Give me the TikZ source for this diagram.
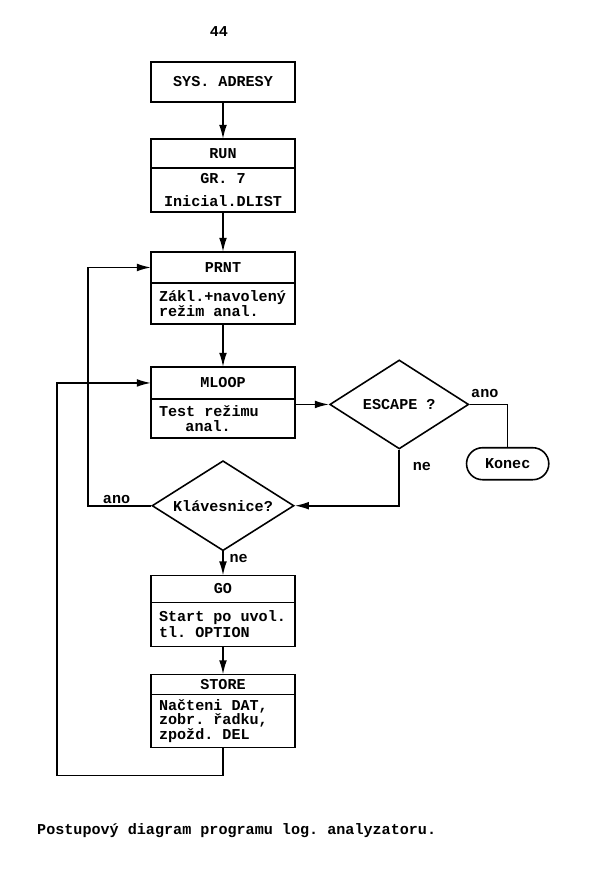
\documentclass[tikz,border=0pt]{standalone}
\usepackage{fontspec}
\setmainfont{Liberation Mono}[UprightFont={* Bold}]
\usetikzlibrary{shapes.geometric, shapes.misc, arrows.meta, positioning}

\begin{document}
\begin{tikzpicture}[
        x=0.02cm, y=-0.02cm,
        font=\fontsize{8.6}{9}\selectfont,
        every node/.style={execute at begin node={\frenchspacing\spaceskip=0.6em\relax}},
        head/.style={rectangle, draw=black, line width=0.9pt, minimum width=2.88cm, inner sep=0pt, outer sep=0pt, align=center},
        body/.style={rectangle, draw=black, line width=0.9pt, text width=2.56cm, inner xsep=0.16cm, inner ysep=0pt, outer sep=0pt, align=left, execute at begin node=\setlength{\lineskiplimit}{-6pt}},
        decision/.style={diamond, aspect=1.6, draw=black, line width=0.9pt, inner sep=0pt, align=center},
        term/.style={rounded rectangle, draw=black, line width=0.9pt, minimum width=1.88cm, minimum height=0.64cm},
        arrow/.style={line width=0.9pt, -{Latex[length=8pt,width=4.4pt]}},
        conn/.style={line width=0.9pt}
    ]
    \useasboundingbox (0,0) rectangle (600,870);

    % Nodes
    \node (pageno) at (219,32) {44};
    \node (sys) [head, minimum height=0.8cm] at (223,82) {SYS. ADRESY};
    \node (run) [head, minimum height=0.58cm, below=0.74cm of sys] {RUN};
    \node (runb) [body, align=center, minimum height=0.88cm, font=\fontsize{8.6}{13}\selectfont, below=0pt of run] {GR. 7\\Inicial.DLIST};
    \node (prnt) [head, minimum height=0.62cm, below=0.8cm of runb] {PRNT};
    \node (prntb) [body, minimum height=0.82cm, font=\fontsize{8.6}{8.8}\selectfont, below=0pt of prnt] {Zákl.+navolený\\režim anal.};
    \node (mloop) [head, minimum height=0.64cm, below=0.86cm of prntb] {MLOOP};
    \node (mloopb) [body, minimum height=0.78cm, font=\fontsize{8.6}{8.8}\selectfont, below=0pt of mloop] {Test režimu\\\hspace*{1.75em}anal.};
    \node (esc) [decision, minimum width=2.78cm, minimum height=1.78cm, right=0.68cm of mloopb, yshift=0.28cm] {ESCAPE ?};
    \node (konec) [term, below right=0.85cm and 0.26cm of esc.east] {Konec};
    \node (klav) [decision, minimum width=2.84cm, minimum height=1.8cm, below=0.44cm of mloopb] {Klávesnice?};
    \node (go) [head, minimum height=0.54cm, below=0.48cm of klav] {GO};
    \node (gob) [body, minimum height=0.88cm, below=0pt of go] {Start po uvol.\\tl. OPTION};
    \node (store) [head, minimum height=0.4cm, below=0.56cm of gob] {STORE};
    \node (storeb) [body, minimum height=1.06cm, font=\fontsize{8.6}{8.4}\selectfont, below=0pt of store] {Načteni DAT,\\zobr. řadku,\\zpožd. DEL};
    \node (caption) [anchor=west] at (31,831) {Postupový diagram programu log. analyzatoru.};

    % Arrows
    \draw [arrow] (sys) -- (run);
    \draw [arrow] (runb) -- (prnt);
    \draw [arrow] (prntb) -- (mloop);
    \draw [arrow] (esc.west -| mloopb.east) -- (esc.west);
    \draw [conn] (esc.east) -| node[pos=0.2, above] {ano} (konec.north);
    \draw [arrow] (esc.south) |- node[pos=0.15, right=4pt] {ne} (klav.east);
    \draw [arrow] (klav.west) -- node[pos=0.55, above, inner sep=1pt] {ano} ++(-1.26cm,0) |- (prnt.west);
    \draw [arrow] (klav.south) -- node[pos=0.3, right] {ne} (go.north);
    \draw [arrow] (gob) -- (store);
    \draw [arrow] (storeb.south) -- ++(0,-0.56cm) -| ([xshift=-1.88cm]mloop.west) -- (mloop.west);

\end{tikzpicture}
\end{document}
